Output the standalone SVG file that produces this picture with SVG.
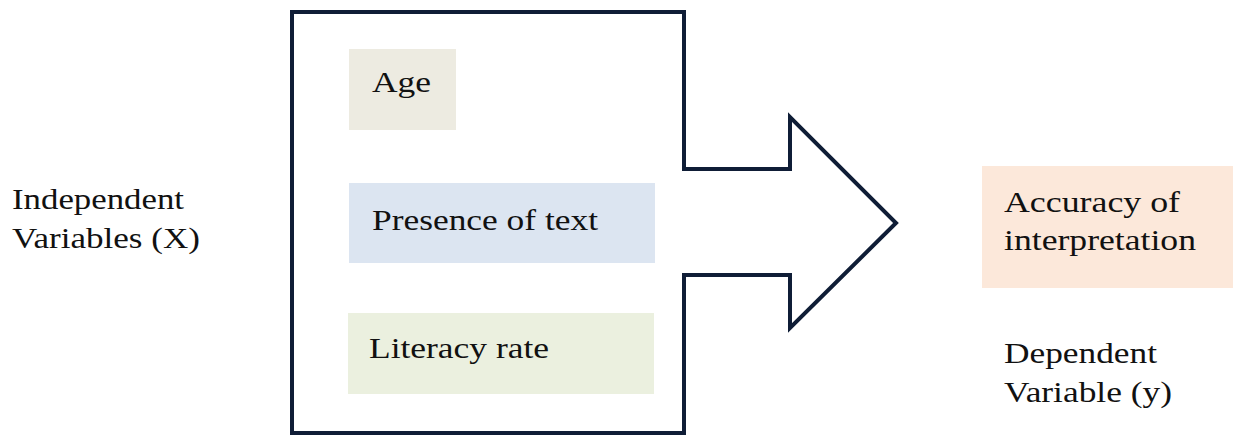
<svg xmlns="http://www.w3.org/2000/svg" width="1233" height="436" viewBox="0 0 1233 436">
<style>
text{font-family:'Liberation Serif','Times New Roman',Times,serif;font-size:30px;fill:#111}
.box{stroke:none}
</style>
<rect width="1233" height="436" fill="#fff"/>
<g id="connectors">
<path d="M292,12 H684 V169 H790 V117 L896,223 L790,328 V275 H684 V433 H292 Z" fill="#fff" stroke="#0f1d36" stroke-width="4" stroke-linejoin="miter"/>
</g>
<g id="label-x">
<text x="12" y="209" textLength="172" lengthAdjust="spacingAndGlyphs" font-family="Liberation Serif">Independent</text>
<text x="12" y="248" textLength="188" lengthAdjust="spacingAndGlyphs" font-family="Liberation Serif">Variables (X)</text>
</g>
<g id="node-age">
<rect class="box" x="349" y="49" width="107" height="81" fill="#edebe1"/>
<text x="372" y="92" textLength="59" lengthAdjust="spacingAndGlyphs" font-family="Liberation Serif">Age</text>
</g>
<g id="node-presence">
<rect class="box" x="349" y="183" width="306" height="80" fill="#dce5f1"/>
<text x="372" y="230" textLength="226" lengthAdjust="spacingAndGlyphs" font-family="Liberation Serif">Presence of text</text>
</g>
<g id="node-literacy">
<rect class="box" x="348" y="313" width="306" height="81" fill="#ebf0df"/>
<text x="369" y="358" textLength="180" lengthAdjust="spacingAndGlyphs" font-family="Liberation Serif">Literacy rate</text>
</g>
<g id="node-accuracy">
<rect class="box" x="982" y="166" width="251" height="122" fill="#fce8da"/>
<text x="1004" y="212" textLength="176" lengthAdjust="spacingAndGlyphs" font-family="Liberation Serif">Accuracy of</text>
<text x="1004" y="250" textLength="192" lengthAdjust="spacingAndGlyphs" font-family="Liberation Serif">interpretation</text>
</g>
<g id="label-y">
<text x="1004" y="363" textLength="153" lengthAdjust="spacingAndGlyphs" font-family="Liberation Serif">Dependent</text>
<text x="1004" y="402" textLength="168" lengthAdjust="spacingAndGlyphs" font-family="Liberation Serif">Variable (y)</text>
</g>
</svg>
